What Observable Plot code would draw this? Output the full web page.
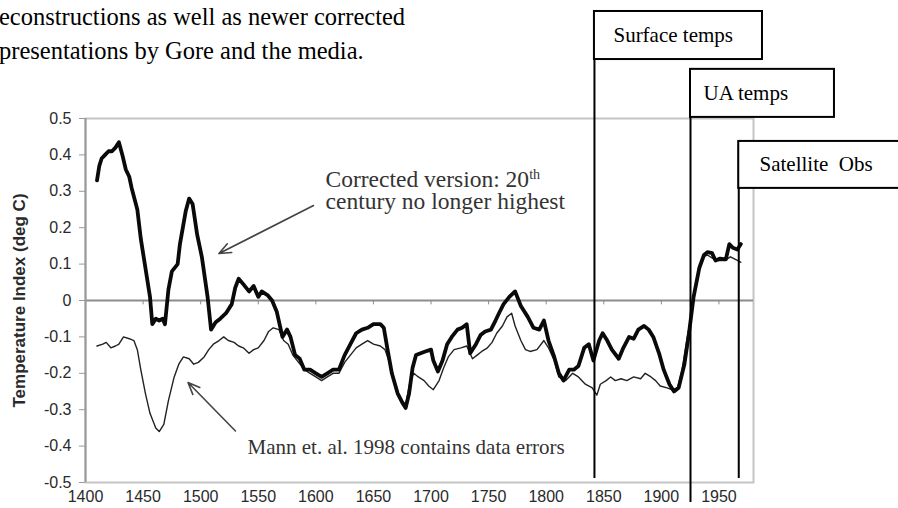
<!DOCTYPE html>
<html><head><meta charset="utf-8">
<script src="https://cdn.jsdelivr.net/npm/d3@7"></script>
<script src="https://cdn.jsdelivr.net/npm/@observablehq/plot@0.6"></script>
<style>
html,body{margin:0;padding:0;background:#fff;overflow:hidden;}
#wrap{position:relative;width:898px;height:508px;overflow:hidden;}
#chart{position:absolute;left:0;top:0;}
#para{position:absolute;left:-1px;top:0px;font-family:"Liberation Serif","Times New Roman",serif;font-size:24.5px;line-height:34px;color:#000;white-space:nowrap;z-index:2;}
</style></head><body>
<div id="wrap"><div id="chart"></div>
<div id="para"><div>econstructions as well as newer corrected</div><div>presentations by Gore and the media.</div></div>
</div>
<script>
// Corrected version (thick line)
const corrYears = [1410,1412,1414,1417,1420,1423,1426,1429,1432,1435,1438,1440,1445,1448,1452,1456,1458,1461,1464,1467,1469,1472,1475,1480,1482,1487,1490,1493,1497,1501,1506,1509,1513,1517,1522,1527,1530,1533,1537,1542,1546,1550,1553,1558,1562,1566,1571,1575,1578,1582,1586,1590,1595,1600,1605,1610,1615,1620,1625,1630,1635,1640,1645,1650,1656,1659,1662,1666,1671,1675,1678,1681,1684,1687,1691,1695,1700,1702,1706,1710,1714,1718,1723,1727,1731,1734,1739,1743,1747,1752,1756,1759,1763,1768,1773,1778,1784,1789,1794,1798,1802,1807,1811,1815,1820,1824,1828,1833,1837,1841,1846,1849,1853,1857,1863,1867,1872,1876,1880,1885,1889,1893,1898,1902,1907,1911,1915,1920,1924,1928,1933,1937,1940,1944,1947,1951,1956,1959,1962,1966,1969];
const corrValues = [0.33,0.37,0.39,0.40,0.41,0.41,0.42,0.435,0.40,0.36,0.34,0.31,0.25,0.17,0.09,0.01,-0.065,-0.05,-0.055,-0.05,-0.065,0.03,0.08,0.10,0.155,0.245,0.28,0.265,0.18,0.12,0.01,-0.08,-0.06,-0.05,-0.035,-0.01,0.035,0.06,0.045,0.025,0.04,0.01,0.025,0.015,0.0,-0.03,-0.10,-0.08,-0.10,-0.15,-0.16,-0.19,-0.19,-0.20,-0.21,-0.20,-0.19,-0.19,-0.15,-0.12,-0.09,-0.08,-0.075,-0.065,-0.065,-0.075,-0.13,-0.20,-0.255,-0.28,-0.295,-0.255,-0.185,-0.15,-0.145,-0.14,-0.135,-0.165,-0.195,-0.165,-0.12,-0.10,-0.08,-0.075,-0.065,-0.145,-0.12,-0.095,-0.085,-0.08,-0.055,-0.035,-0.01,0.01,0.025,-0.015,-0.045,-0.075,-0.08,-0.055,-0.11,-0.155,-0.20,-0.22,-0.19,-0.19,-0.18,-0.13,-0.12,-0.165,-0.11,-0.09,-0.11,-0.135,-0.16,-0.13,-0.10,-0.105,-0.08,-0.07,-0.08,-0.10,-0.145,-0.19,-0.23,-0.25,-0.24,-0.175,-0.09,0.01,0.09,0.125,0.133,0.13,0.11,0.115,0.113,0.155,0.145,0.14,0.155];

// Mann et al. 1998 (thin line)
const mannYears = [1410,1415,1418,1422,1426,1429,1433,1438,1442,1445,1448,1452,1456,1461,1464,1468,1472,1477,1481,1485,1490,1494,1498,1503,1507,1511,1516,1520,1524,1529,1533,1537,1542,1546,1550,1555,1559,1563,1568,1572,1576,1580,1585,1590,1595,1600,1605,1610,1615,1620,1625,1630,1635,1640,1645,1650,1656,1660,1665,1669,1673,1678,1682,1685,1689,1694,1698,1702,1707,1711,1715,1720,1726,1731,1736,1740,1744,1749,1753,1757,1762,1766,1770,1773,1778,1782,1786,1792,1798,1802,1807,1811,1817,1823,1828,1834,1840,1844,1847,1852,1856,1860,1865,1870,1876,1882,1886,1891,1895,1899,1905,1909,1914,1918,1922,1927,1931,1936,1940,1945,1950,1955,1960,1966,1969];
const mannValues = [-0.125,-0.12,-0.115,-0.13,-0.125,-0.12,-0.10,-0.105,-0.11,-0.135,-0.19,-0.255,-0.31,-0.35,-0.36,-0.34,-0.275,-0.21,-0.175,-0.155,-0.16,-0.175,-0.17,-0.155,-0.135,-0.12,-0.11,-0.10,-0.11,-0.115,-0.125,-0.13,-0.145,-0.135,-0.13,-0.11,-0.085,-0.075,-0.08,-0.11,-0.12,-0.15,-0.17,-0.19,-0.20,-0.21,-0.22,-0.21,-0.20,-0.20,-0.17,-0.15,-0.13,-0.12,-0.11,-0.12,-0.125,-0.135,-0.18,-0.24,-0.27,-0.285,-0.22,-0.20,-0.21,-0.22,-0.235,-0.245,-0.22,-0.185,-0.155,-0.135,-0.13,-0.125,-0.16,-0.15,-0.14,-0.13,-0.115,-0.09,-0.07,-0.045,-0.035,-0.07,-0.11,-0.135,-0.14,-0.135,-0.11,-0.13,-0.165,-0.21,-0.22,-0.20,-0.21,-0.23,-0.24,-0.26,-0.23,-0.22,-0.21,-0.22,-0.215,-0.22,-0.21,-0.215,-0.20,-0.21,-0.22,-0.235,-0.24,-0.245,-0.24,-0.19,-0.11,-0.02,0.065,0.12,0.125,0.115,0.11,0.11,0.12,0.11,0.105];

// Axes
const xTicks = [1400,1450,1500,1550,1600,1650,1700,1750,1800,1850,1900,1950];
const yTicks = [-0.5,-0.4,-0.3,-0.2,-0.1,0,0.1,0.2,0.3,0.4,0.5];
const yTitle = "Temperature Index (deg C)";

// Record boxes (Surface / UA / Satellite)
const boxLabels = ["Surface temps", "UA temps", "Satellite\u00a0 Obs"];
const boxStart = [1841.9, 1925.3, 1967.2];
const boxEnd = [1987.8, 2050.3, 2107.6];
const boxTop = [0.794, 0.635, 0.437];
const boxBottom = [0.662, 0.503, 0.308];
const ruleBottom = [-0.489, -0.555, -0.489];
const boxLabelYear = [1858.4, 1936.6, 1985.2];
const boxLabelValue = [0.728, 0.568, 0.374];

// Annotations
const noteTexts = ["Corrected version: 20", "century no longer highest", "Mann et. al. 1998 contains data errors"];
const noteYear = [1608.4, 1608.4, 1540.7];
const noteValue = [0.333, 0.271, -0.402];
const arrowFromYear = [1598.0, 1530.2];
const arrowFromValue = [0.261, -0.3585];
const arrowToYear = [1515.9, 1489.0];
const arrowToValue = [0.129, -0.2253];

const corr = corrYears.map((year, i) => ({year, value: corrValues[i]}));
const mann = mannYears.map((year, i) => ({year, value: mannValues[i]}));
const boxes = boxLabels.map((label, i) => ({label, x1: boxStart[i], x2: boxEnd[i], top: boxTop[i], bottom: boxBottom[i], rb: ruleBottom[i], lx: boxLabelYear[i], ly: boxLabelValue[i]}));
const notes = noteTexts.map((text, i) => ({text, x: noteYear[i], y: noteValue[i]}));
const arrows = arrowFromYear.map((x1, i) => ({x1, y1: arrowFromValue[i], x2: arrowToYear[i], y2: arrowToValue[i]}));

const fmtY = d => d === 0 ? "0" : (d < 0 ? "-" : "") + Math.abs(d).toFixed(1);
const serif = "'Liberation Serif', 'Times New Roman', serif";

const chart = Plot.plot({
  width: 898, height: 508,
  marginLeft: 85, marginRight: 145, marginTop: 118, marginBottom: 26,
  x: {domain: [1400, 1980]},
  y: {domain: [-0.5, 0.5]},
  style: {fontFamily: "'Liberation Sans', Arial, sans-serif", background: "transparent", overflow: "visible"},
  marks: [
    Plot.frame({stroke: "#c4c4c4", strokeWidth: 2}),
    Plot.ruleY([0], {stroke: "#8c8c8c", strokeWidth: 2}),
    Plot.ruleX(xTicks.slice(1), {x: d => d, y1: 0, y2: -0.012, stroke: "#8c8c8c", strokeWidth: 1}),
    Plot.ruleX([1400], {stroke: "#9a9a9a", strokeWidth: 2}),
    Plot.axisY(yTicks, {tickSize: 6, tickPadding: 8, stroke: "#9a9a9a", fill: "#2a2a2a", fontSize: 16, tickFormat: fmtY, label: null}),
    Plot.axisX(xTicks, {tickSize: 0, tickPadding: 8, fill: "#2a2a2a", fontSize: 16, tickFormat: d => String(d), label: null}),
    Plot.text([yTitle], {frameAnchor: "left", y: () => 0, text: d => d, dx: -66, rotate: -90, fontSize: 17, fontWeight: "bold", fill: "#2a2a2a", textAnchor: "middle"}),
    Plot.line(mann, {x: "year", y: "value", stroke: "#222", strokeWidth: 1.4}),
    Plot.line(corr, {x: "year", y: "value", stroke: "#0a0a0a", strokeWidth: 3.8, strokeLinejoin: "round"}),
    Plot.arrow(arrows, {x1: "x1", y1: "y1", x2: "x2", y2: "y2", stroke: "#444", strokeWidth: 1.6, headLength: 12, headAngle: 45}),
    Plot.text(notes.slice(0, 2), {x: "x", y: "y", text: "text", textAnchor: "start", fontFamily: serif, fontSize: 23.5, fill: "#333"}),
    Plot.text(notes.slice(2), {x: "x", y: "y", text: "text", textAnchor: "start", fontFamily: serif, fontSize: 21, fill: "#333"}),
    Plot.ruleX(boxes, {x: "x1", y1: "rb", y2: "top", stroke: "#000", strokeWidth: 2}),
    Plot.rect(boxes, {x1: "x1", x2: "x2", y1: "bottom", y2: "top", fill: "white", stroke: "#000", strokeWidth: 2}),
    Plot.text(boxes, {x: "lx", y: "ly", text: "label", textAnchor: "start", fontFamily: serif, fontSize: 21, fill: "#000"})
  ]
});
document.getElementById("chart").appendChild(chart);

// superscript "th" after "20"
d3.select(chart).selectAll("text").filter(function() { return this.textContent === noteTexts[0]; })
  .append("tspan").attr("dy", "-0.55em").attr("font-size", "0.6em").text("th");
</script>
</body></html>
